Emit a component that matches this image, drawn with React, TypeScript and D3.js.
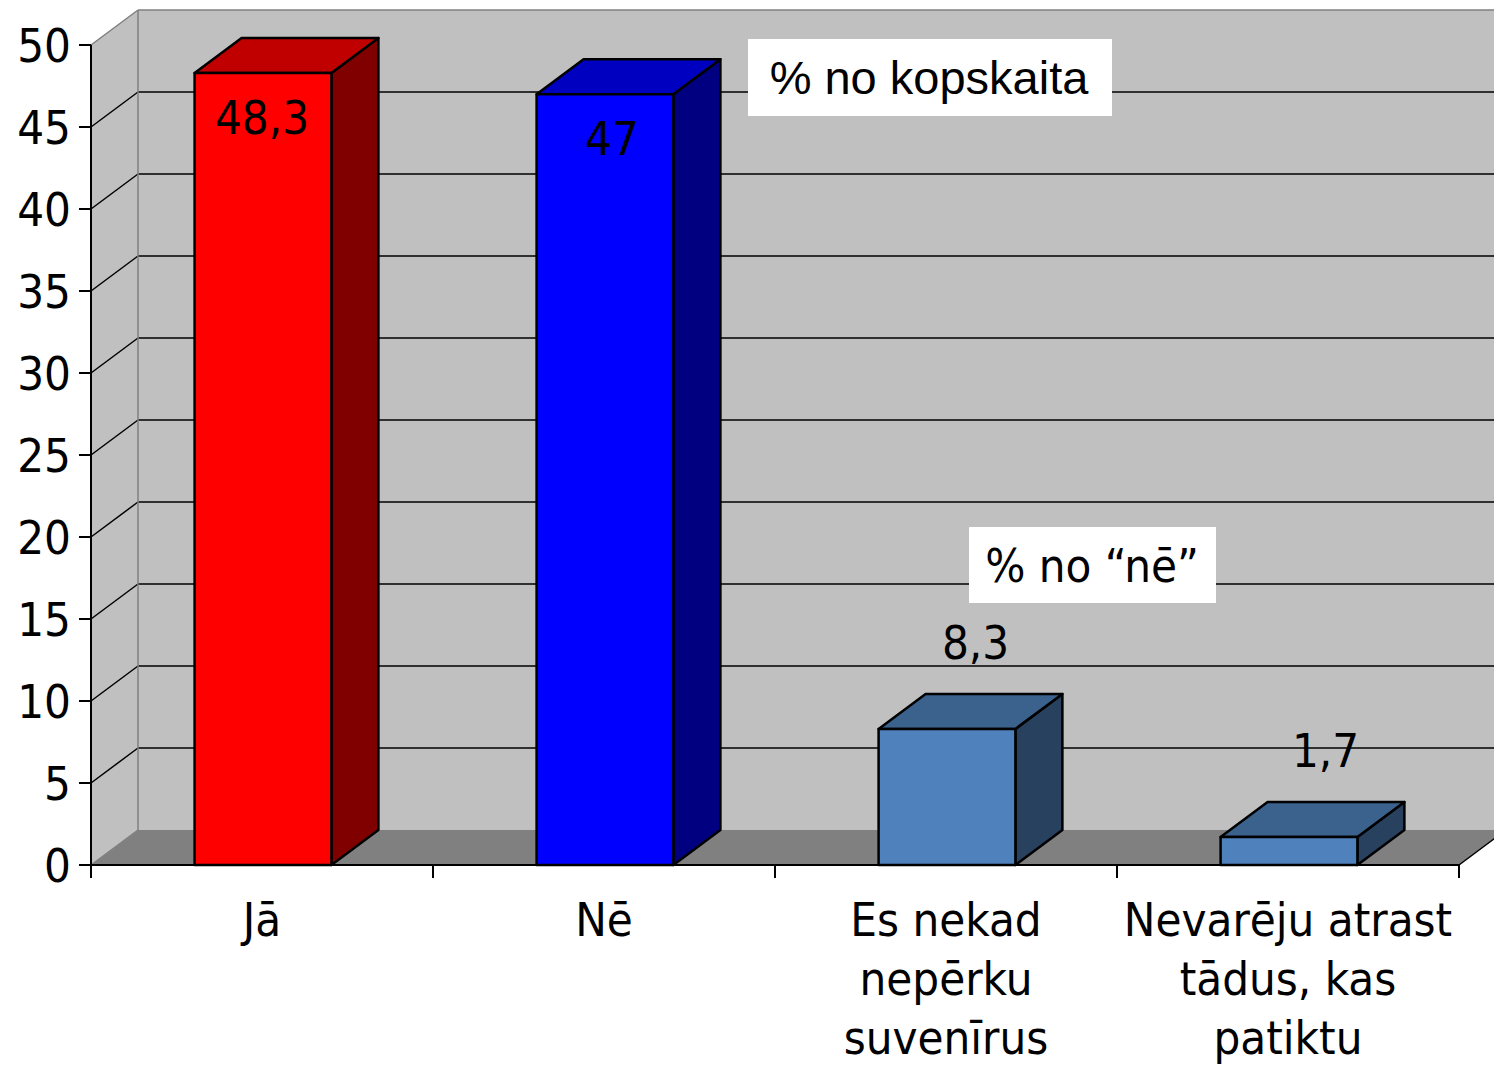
import * as d3 from 'd3';

const categories = ['Jā', 'Nē', 'Es nekad nepērku suvenīrus', 'Nevarēju atrast tādus, kas patiktu'];
const categoryLines = [['Jā'], ['Nē'], ['Es nekad', 'nepērku', 'suvenīrus'], ['Nevarēju atrast', 'tādus, kas', 'patiktu']];
const values = [48.3, 47, 8.3, 1.7];
const valueLabels = ['48,3', '47', '8,3', '1,7'];
const yTicks = [0, 5, 10, 15, 20, 25, 30, 35, 40, 45, 50];

const frontColors = ['#ff0000', '#0000ff', '#4f81bd', '#4f81bd'];
const topColors = ['#c00000', '#0000c0', '#3b618d', '#3b618d'];
const sideColors = ['#800000', '#000080', '#28415f', '#28415f'];

const W = 1494;
const H = 1066;
const DX = 47;
const DY = -35;
const FONT = '"DejaVu Sans Condensed", "DejaVu Sans", sans-serif';

export default function App() {
    const left = 91;
    const right = 1459;
    const y = d3.scaleLinear().domain([0, 50]).range([865, 45]);
    const x = d3.scaleBand<string>().domain(categories).range([left, right]).paddingInner(0.6).paddingOuter(0.3);
    const step = x.step();
    const base = y(0);
    const top = y(50);

    return (
        <svg width={W} height={H} style={{ position: 'absolute', left: 0, top: 0, background: '#fff' }}>
            {/* back wall */}
            <rect x={left + DX} y={top + DY} width={right - left + 10} height={base - top} fill="#c0c0c0" />
            {/* side wall */}
            <polygon
                points={`${left},${top} ${left + DX},${top + DY} ${left + DX},${base + DY} ${left},${base}`}
                fill="#c0c0c0"
            />
            {/* floor */}
            <polygon
                points={`${left},${base} ${left + DX},${base + DY} ${right + DX},${base + DY} ${right},${base}`}
                fill="#808080"
            />
            {/* gridlines */}
            {yTicks
                .filter((t) => t > 0 && t < 50)
                .map((t) => (
                    <g key={t} stroke="#000" strokeWidth={1.5}>
                        <line x1={left} y1={y(t)} x2={left + DX} y2={y(t) + DY} />
                        <line x1={left + DX} y1={y(t) + DY} x2={W} y2={y(t) + DY} />
                    </g>
                ))}
            {/* wall edges */}
            <g stroke="#808080" strokeWidth={1.5} fill="none">
                <line x1={left} y1={top} x2={left + DX} y2={top + DY} />
                <line x1={left + DX} y1={top + DY} x2={W} y2={top + DY} />
                <line x1={left + DX} y1={top + DY} x2={left + DX} y2={base + DY} />
                <line x1={left} y1={base} x2={left + DX} y2={base + DY} />
            </g>
            <line x1={right} y1={base} x2={right + DX} y2={base + DY} stroke="#000" strokeWidth={1.5} />

            {/* bars */}
            {categories.map((c, i) => {
                const x0 = (x(c) as number) + 1;
                const x1 = x0 + x.bandwidth();
                const yt = y(values[i]);
                return (
                    <g key={c} stroke="#000" strokeWidth={2.5} strokeLinejoin="round">
                        <polygon
                            points={`${x1},${base} ${x1 + DX},${base + DY} ${x1 + DX},${yt + DY} ${x1},${yt}`}
                            fill={sideColors[i]}
                        />
                        <polygon
                            points={`${x0},${yt} ${x0 + DX},${yt + DY} ${x1 + DX},${yt + DY} ${x1},${yt}`}
                            fill={topColors[i]}
                        />
                        <rect x={x0} y={yt} width={x1 - x0} height={base - yt} fill={frontColors[i]} />
                    </g>
                );
            })}

            {/* axes */}
            <g stroke="#000" strokeWidth={2}>
                <line x1={left} y1={top} x2={left} y2={base} />
                <line x1={left} y1={base} x2={right} y2={base} />
                {yTicks.map((t) => (
                    <line key={t} x1={left - 12} y1={y(t)} x2={left} y2={y(t)} />
                ))}
                {d3.range(categories.length + 1).map((k) => (
                    <line key={k} x1={left + k * step} y1={base} x2={left + k * step} y2={base + 13} />
                ))}
            </g>
            <g fontFamily={FONT} fontSize={47} fill="#000" textAnchor="end">
                {yTicks.map((t) => (
                    <text key={t} x={left - 20} y={y(t) + 17}>
                        {t}
                    </text>
                ))}
            </g>
            <g fontFamily={FONT} fontSize={47} fill="#000" textAnchor="middle">
                {categories.map((c, i) => (
                    <text key={c} x={(x(c) as number) + x.bandwidth() / 2} y={936}>
                        {categoryLines[i].map((ln, k) => (
                            <tspan key={k} x={(x(c) as number) + x.bandwidth() / 2} dy={k === 0 ? 0 : 59}>
                                {ln}
                            </tspan>
                        ))}
                    </text>
                ))}
            </g>

            {/* value labels */}
            <g fontFamily={FONT} fontSize={47} fill="#000" textAnchor="middle">
                {categories.map((c, i) => {
                    const cx = (x(c) as number) + x.bandwidth() / 2;
                    const yt = y(values[i]);
                    const inside = values[i] > 20;
                    return (
                        <text
                            key={c}
                            x={inside ? cx + (i === 1 ? 8 : 0) : cx + DX / 2 + 6 + (i === 3 ? 8 : 0)}
                            y={inside ? yt + 61 : yt - 70}
                        >
                            {valueLabels[i]}
                        </text>
                    );
                })}
            </g>

            {/* annotation boxes */}
            <rect x={748} y={39} width={364} height={77} fill="#fff" />
            <text x={929} y={94} textAnchor="middle" fontFamily='"Liberation Sans", Arial, sans-serif' fontSize={47}>
                % no kopskaita
            </text>
            <rect x={969} y={527} width={247} height={76} fill="#fff" />
            <text x={1092} y={582} textAnchor="middle" fontFamily={FONT} fontSize={47}>
                % no “nē”
            </text>
        </svg>
    );
}
